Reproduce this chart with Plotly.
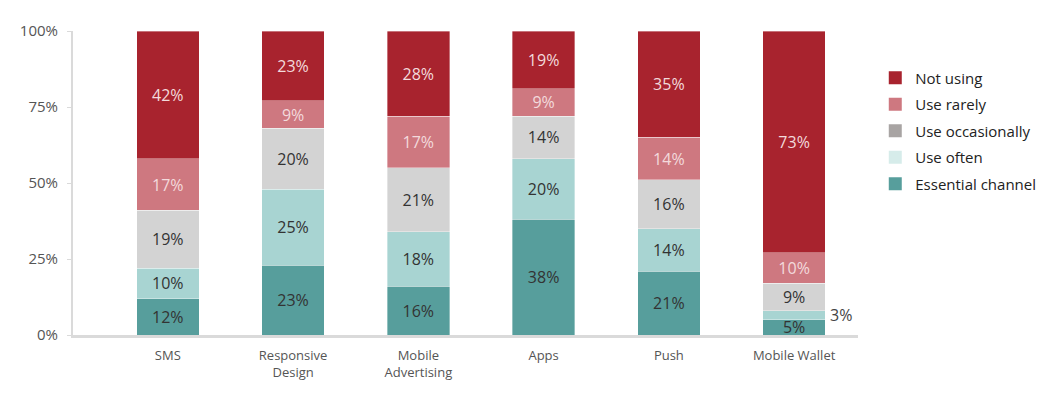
import plotly.graph_objects as go

categories = ["SMS", "Responsive<br>Design", "Mobile<br>Advertising", "Apps", "Push", "Mobile Wallet"]
essential = [12, 23, 16, 38, 21, 5]
often = [10, 25, 18, 20, 14, 3]
occasionally = [19, 20, 21, 14, 16, 9]
rarely = [17, 9, 17, 9, 14, 10]
not_using = [42, 23, 28, 19, 35, 73]

series_names = ["Essential channel", "Use often", "Use occasionally", "Use rarely", "Not using"]
series_values = [essential, often, occasionally, rarely, not_using]
bar_colors = ["#579E9C", "#A8D4D2", "#D3D3D3", "#CE7880", "#A8232E"]
legend_colors = ["#579E9C", "#D6ECEA", "#A8A4A3", "#CE7880", "#A8232E"]
text_colors = ["#333333", "#333333", "#333333", "#F3DADC", "#F3DADC"]

FONT = "'Open Sans', Lato, sans-serif"
x_idx = list(range(len(categories)))

fig = go.Figure()
for name, vals, col, tcol in zip(series_names, series_values, bar_colors, text_colors):
    labels = [f"{v}%" for v in vals]
    if name == "Use often":
        labels[-1] = ""  # shown outside as annotation
    fig.add_trace(go.Bar(
        x=x_idx, y=vals, name=name, marker=dict(color=col, line=dict(color="rgba(255,255,255,0.6)", width=0.6)),
        text=labels, textposition="inside", insidetextanchor="middle", textangle=0,
        textfont=dict(family=FONT, size=16, color=tcol), width=0.5, showlegend=False,
        constraintext="none", hoverinfo="skip",
    ))

# legend entries (top to bottom)
for i, (name, col) in enumerate(reversed(list(zip(series_names, legend_colors)))):
    fig.add_trace(go.Scatter(
        x=[None], y=[None], mode="markers", name=name, legendgroup=f"g{i}",
        marker=dict(symbol="square", size=13, color=col),
    ))

fig.add_annotation(x=5.25, y=essential[-1] + often[-1] / 2, text=f"{often[-1]}%", showarrow=False,
                   xanchor="left", yanchor="middle", xshift=3,
                   font=dict(family=FONT, size=16, color="#444444"))

fig.update_layout(
    barmode="stack",
    width=1055, height=398,
    margin=dict(l=64, r=205, t=19, b=71),
    paper_bgcolor="white", plot_bgcolor="white",
    uniformtext=dict(minsize=16, mode="show"),
    font=dict(family=FONT, color="#555555"),
    legend=dict(x=1.022, y=0.90, xanchor="left", yanchor="top", traceorder="grouped",
                font=dict(family=FONT, size=15, color="#222222"), tracegroupgap=4,
                itemclick=False, bgcolor="rgba(0,0,0,0)"),
    xaxis=dict(tickmode="array", tickvals=x_idx, ticktext=categories, range=[-0.757, 5.51],
               showline=True, linecolor="#DADADA", linewidth=3, ticks="", showgrid=False,
               ticklabelstandoff=6,
               tickfont=dict(family=FONT, size=13, color="#555555"), zeroline=False),
    yaxis=dict(range=[0, 100], tickvals=[0, 25, 50, 75, 100], ticktext=["0%", "25%", "50%", "75%", "100%"],
               showline=True, linecolor="#DADADA", linewidth=2, ticks="outside", ticklen=4,
               tickcolor="#DADADA", showgrid=False, zeroline=False, ticklabelstandoff=6,
               tickfont=dict(family=FONT, size=15, color="#555555")),
)

fig.write_html("out.html")
